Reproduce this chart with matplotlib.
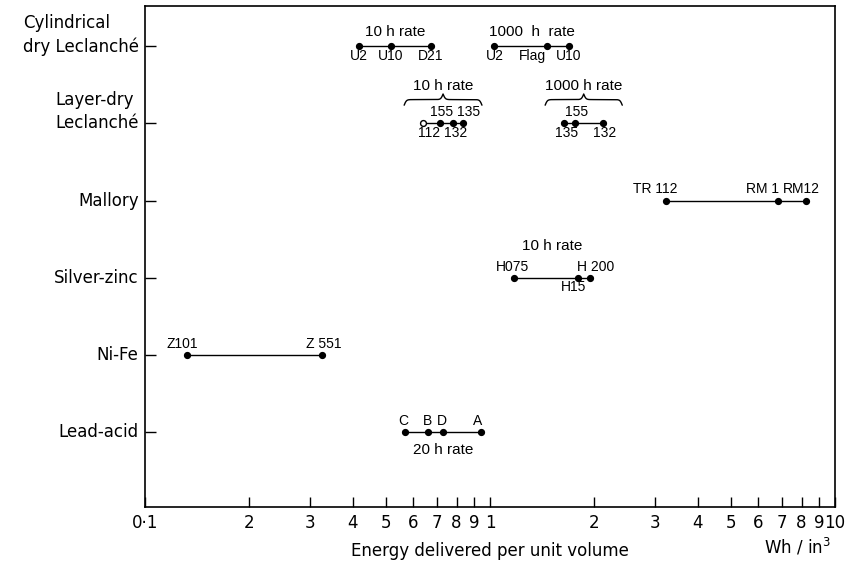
import numpy as np
import matplotlib
matplotlib.use("Agg")
import matplotlib.pyplot as plt

# ---------------- data ----------------
categories = ["Cylindrical\ndry Leclanché", "Layer-dry\nLeclanché", "Mallory",
              "Silver-zinc", "Ni-Fe", "Lead-acid"]
cat_pos = [6, 5, 4, 3, 2, 1]

cyl10_labels = ["U2", "U10", "D21"]
cyl10_values = [0.417, 0.516, 0.675]
cyl1000_labels = ["U2", "Flag", "U10"]
cyl1000_values = [1.03, 1.46, 1.69]
layer10_labels = ["112", "155", "132", "135"]
layer10_values = [0.64, 0.716, 0.78, 0.835]
layer1000_labels = ["135", "155", "132"]
layer1000_values = [1.64, 1.76, 2.13]
mallory_labels = ["TR 112", "RM 1", "RM12"]
mallory_values = [3.24, 6.84, 8.24]
silver_labels = ["H075", "H15", "H 200"]
silver_values = [1.17, 1.80, 1.95]
nife_labels = ["Z101", "Z 551"]
nife_values = [0.132, 0.326]
lead_labels = ["C", "B", "D", "A"]
lead_values = [0.567, 0.66, 0.73, 0.94]

x_major = [0.1, 1, 10]
x_major_labels = ["0·1", "1", "10"]
x_minor = [0.2, 0.3, 0.4, 0.5, 0.6, 0.7, 0.8, 0.9, 2, 3, 4, 5, 6, 7, 8, 9]
x_minor_labels = ["2", "3", "4", "5", "6", "7", "8", "9"] * 2

xlabel = "Energy delivered per unit volume"
unit_label = "Wh / in$^3$"

# ---------------- layout / style ----------------
groups = [
    dict(v=cyl10_values, l=cyl10_labels, y=6, place=[("b", 0), ("b", 0), ("b", 0)],
         title="10 h rate", tpos=("a", 10)),
    dict(v=cyl1000_values, l=cyl1000_labels, y=6, place=[("b", 0), ("b", -10), ("b", 0)],
         title="1000  h  rate", tpos=("a", 10)),
    dict(v=layer10_values, l=layer10_labels, y=5, place=[("b", 4.5), ("a", 1.5), ("b", 2.0), ("a", 4.0)],
         title="10 h rate", tpos=("brace", 27), hollow_first=True),
    dict(v=layer1000_values, l=layer1000_labels, y=5, place=[("b", 2), ("a", 1), ("b", 1)],
         title="1000 h rate", tpos=("brace", 27)),
    dict(v=mallory_values, l=mallory_labels, y=4, place=[("a", -8), ("a", -11), ("a", -3)],
         title=None),
    dict(v=silver_values, l=silver_labels, y=3, place=[("a", -1), ("b", -3.5), ("a", 4)],
         title="10 h rate", tpos=("a", 23)),
    dict(v=nife_values, l=nife_labels, y=2, place=[("a", -3), ("a", 1)], title=None),
    dict(v=lead_values, l=lead_labels, y=1, place=[("a", -1), ("a", 0), ("a", -1), ("a", -2)],
         title="20 h rate", tpos=("b", -13)),
]

ANN_FAMILY = ["Liberation Sans", "DejaVu Sans"]
FS_ANN = 10
FS_TITLE = 11
FS_LAB = 12

fig = plt.figure(figsize=(8.53, 5.64), dpi=100)
ax = fig.add_axes([145 / 853, 1 - 507 / 564, (835 - 145) / 853, (507 - 6) / 564])
ax.set_xscale("log")
ax.set_xlim(0.1, 10)
ax.set_ylim(0.03, 6.52)

for sp in ax.spines.values():
    sp.set_linewidth(1.2)
    sp.set_color("black")

ax.set_xticks(x_major)
ax.set_xticklabels(x_major_labels)
ax.set_xticks(x_minor, minor=True)
ax.set_xticklabels(x_minor_labels, minor=True)
ax.tick_params(axis="x", which="both", direction="in", length=7, width=1,
               labelsize=FS_LAB, pad=5, top=False)
ax.set_yticks(cat_pos)
ax.set_yticklabels([])
ax.tick_params(axis="y", which="both", direction="in", length=8, width=1, right=False)

for name, yv in zip(categories, cat_pos):
    nlines = name.count("\n") + 1
    ax.annotate(name, xy=(0, yv), xycoords=("axes fraction", "data"),
                xytext=(-4.5, 8.3 * (nlines - 1)), textcoords="offset points",
                ha="right", va="center", fontsize=FS_LAB, multialignment="left",
                linespacing=1.38)

ax.set_xlabel(xlabel, fontsize=FS_LAB, labelpad=7)
ax.annotate(unit_label, xy=(0.945, 0), xycoords="axes fraction",
            xytext=(0, -29), textcoords="offset points",
            ha="center", va="center", fontsize=FS_LAB)


def draw_brace(ax, xmin, xmax, y, pad_dec=0.055, base=0.235, amp=0.145):
    lx0 = np.log10(xmin) - pad_dec
    lx1 = np.log10(xmax) + pad_dec
    t = np.linspace(0, 1, 401)
    k = 70.0
    th = np.where(t <= 0.5, t, 1 - t)
    val = 1 / (1 + np.exp(-k * th)) + 1 / (1 + np.exp(-k * (th - 0.5))) - 0.5
    xs = 10 ** (lx0 + t * (lx1 - lx0))
    ax.plot(xs, y + base + amp * val, color="black", lw=1.0, solid_capstyle="round")


for g in groups:
    v = g["v"]
    yv = [g["y"]] * len(v)
    ax.plot(v, yv, color="black", lw=1.0, zorder=2)
    face = ["black"] * len(v)
    if g.get("hollow_first"):
        face[0] = "white"
    for xi, yi, fc in zip(v, yv, face):
        ax.plot([xi], [yi], marker="o", ms=4.2, mfc=fc, mec="black", mew=1.0,
                zorder=3, ls="none")
    for xi, lab, (pos, dx) in zip(v, g["l"], g["place"]):
        dy = 8 if pos == "a" else -7
        ax.annotate(lab, xy=(xi, g["y"]), xytext=(dx, dy), textcoords="offset points",
                    ha="center", va="center", fontsize=FS_ANN, family=ANN_FAMILY)
    if g["title"]:
        kind, dy = g["tpos"]
        xc = np.sqrt(min(v) * max(v))
        if kind == "brace":
            draw_brace(ax, min(v), max(v), g["y"])
        ax.annotate(g["title"], xy=(xc, g["y"]), xytext=(0, dy), textcoords="offset points",
                    ha="center", va="center", fontsize=FS_TITLE, family=ANN_FAMILY)

fig.savefig("out.png", dpi=100)
